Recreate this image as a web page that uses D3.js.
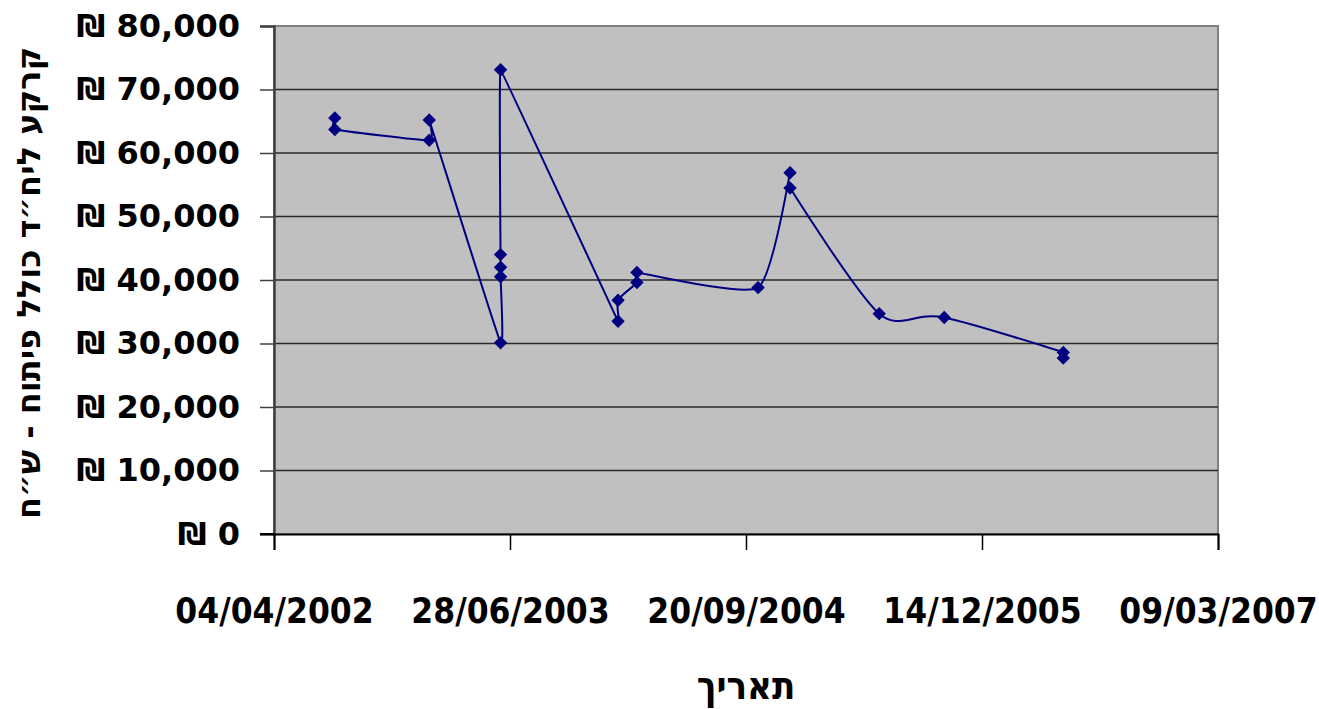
<!DOCTYPE html>
<html>
<head>
<meta charset="utf-8">
<script src="https://cdn.jsdelivr.net/npm/d3@7"></script>
<style>
  body { margin: 0; background: #fff; }
  svg { display: block; }
</style>
</head>
<body>
<div id="chart"></div>
<script>
// נתונים - תאריך ומחיר
let dates = ["2002-07-29", "2002-07-29", "2003-01-25", "2003-01-25", "2003-06-10",
    "2003-06-10", "2003-06-10", "2003-06-10", "2003-06-10", "2004-01-20", "2004-01-20",
    "2004-02-25", "2004-02-25", "2004-10-13", "2004-12-13", "2004-12-13", "2005-06-01",
    "2005-10-03", "2006-05-18", "2006-05-18"]
let prices = [65500, 63700, 62000, 65200, 30100,
    40500, 42000, 44000, 73100, 33500, 36800,
    39600, 41200, 38800, 56900, 54500, 34700,
    34100, 28600, 27700]
let xTickLabels = ["04/04/2002", "28/06/2003", "20/09/2004", "14/12/2005", "09/03/2007"]
let yTicks = [0, 10000, 20000, 30000, 40000, 50000, 60000, 70000, 80000]

let width = 1319, height = 709
let plot = { left: 274, top: 26, right: 1218, bottom: 534 }

let parseDate = d3.timeParse("%Y-%m-%d")
let parseTick = d3.timeParse("%d/%m/%Y")
let data = dates.map((d, i) => ({ date: parseDate(d), price: prices[i] }))
let tickDates = xTickLabels.map(parseTick)

// עקומה מוחלקת בסגנון אקסל - בזייה עם הגבלת נקודות הבקרה בפניות חדות
function ExcelSmooth(context) { this._context = context }
ExcelSmooth.prototype = {
    areaStart: function () { this._line = 0 },
    areaEnd: function () { this._line = NaN },
    lineStart: function () { this._pts = [] },
    point: function (x, y) { this._pts.push([+x, +y]) },
    lineEnd: function () {
        let p = this._pts, n = p.length, ctx = this._context
        if (!n) return
        let dist = (a, b) => Math.hypot(b[0] - a[0], b[1] - a[1])
        let tan = p.map(function (pt, i) {
            let a = p[Math.max(i - 1, 0)], b = p[Math.min(i + 1, n - 1)]
            let d02 = dist(a, b)
            if (d02 === 0) return [0, 0]
            let d01 = dist(a, pt), d12 = dist(pt, b)
            let m = d02 / 6
            if (d01 > 0) m = Math.min(m, d01 / 2)
            if (d12 > 0) m = Math.min(m, d12 / 2)
            let r = d02 / ((d01 + d12) || 1)
            m = m * r * r
            return [(b[0] - a[0]) / d02 * m, (b[1] - a[1]) / d02 * m]
        })
        ctx.moveTo(p[0][0], p[0][1])
        for (let i = 0; i < n - 1; i++) {
            ctx.bezierCurveTo(p[i][0] + tan[i][0], p[i][1] + tan[i][1],
                p[i + 1][0] - tan[i + 1][0], p[i + 1][1] - tan[i + 1][1],
                p[i + 1][0], p[i + 1][1])
        }
    }
}
let curveExcel = context => new ExcelSmooth(context)

let svg = d3.select("#chart").append("svg")
    .attr("width", width)
    .attr("height", height)

let x = d3.scaleTime()
    .domain([tickDates[0], tickDates[tickDates.length - 1]])
    .range([plot.left, plot.right])
let y = d3.scaleLinear()
    .domain([0, 80000])
    .range([plot.bottom, plot.top])

// רקע אפור
svg.append("rect")
    .attr("x", plot.left)
    .attr("y", plot.top)
    .attr("width", plot.right - plot.left)
    .attr("height", plot.bottom - plot.top)
    .attr("fill", "#C0C0C0")
    .attr("stroke", "#808080")
    .attr("stroke-width", 2)

// קווי רשת
svg.selectAll(".grid")
    .data(yTicks.slice(1, -1))
    .enter()
    .append("line")
    .attr("class", "grid")
    .attr("x1", plot.left)
    .attr("x2", plot.right)
    .attr("y1", d => y(d))
    .attr("y2", d => y(d))
    .attr("stroke", "#2a2a2a")
    .attr("stroke-width", 1.5)

// ציר Y
let yAxis = svg.append("g")
    .attr("transform", "translate(" + plot.left + ",0)")
    .call(d3.axisLeft(y)
        .tickValues(yTicks)
        .tickSize(14)
        .tickPadding(20)
        .tickFormat(d => "\u20AA " + d3.format(",")(d)))
yAxis.select(".domain").attr("stroke", "#404040").attr("stroke-width", 2.5)
yAxis.selectAll(".tick line").attr("stroke", "#404040").attr("stroke-width", 1.5)
yAxis.selectAll(".tick text")
    .attr("fill", "#000")
    .style("font-family", "'DejaVu Sans', Verdana, sans-serif")
    .style("font-weight", "bold")
    .style("font-size", "32px")
    .attr("direction", "ltr")

// ציר X
let xAxis = svg.append("g")
    .attr("transform", "translate(0," + plot.bottom + ")")
    .call(d3.axisBottom(x)
        .tickValues(tickDates)
        .tickSize(16)
        .tickPadding(48)
        .tickFormat((d, i) => xTickLabels[i]))
xAxis.select(".domain").attr("stroke", "#000").attr("stroke-width", 2)
xAxis.selectAll(".tick line").attr("stroke", "#000").attr("stroke-width", 1.5)
xAxis.selectAll(".tick text")
    .attr("fill", "#000")
    .style("font-family", "'DejaVu Sans Condensed', 'DejaVu Sans', sans-serif")
    .style("font-weight", "bold")
    .style("font-size", "35px")
// קו האפס משמאל
svg.append("line")
    .attr("x1", plot.left - 14)
    .attr("x2", plot.left)
    .attr("y1", plot.bottom)
    .attr("y2", plot.bottom)
    .attr("stroke", "#000")
    .attr("stroke-width", 2)

// הקו המוחלק
let line = d3.line()
    .x(d => x(d.date))
    .y(d => y(d.price))
    .curve(curveExcel)
svg.append("path")
    .datum(data)
    .attr("d", line)
    .attr("fill", "none")
    .attr("stroke", "#000080")
    .attr("stroke-width", 2)

// סמנים
let diamond = d3.symbol().type(d3.symbolSquare).size(72)
svg.selectAll(".marker")
    .data(data)
    .enter()
    .append("path")
    .attr("class", "marker")
    .attr("d", diamond)
    .attr("transform", d => "translate(" + x(d.date) + "," + y(d.price) + ") rotate(45)")
    .attr("fill", "#000080")
    .attr("stroke", "#000080")
    .attr("stroke-width", 1)

// כותרות צירים
svg.append("text")
    .attr("transform", "translate(31," + ((plot.top + plot.bottom) / 2 + 3) + ") rotate(-90)")
    .attr("text-anchor", "middle")
    .attr("dominant-baseline", "middle")
    .attr("textLength", 472)
    .attr("lengthAdjust", "spacingAndGlyphs")
    .style("font-family", "'DejaVu Sans', sans-serif")
    .style("font-weight", "bold")
    .style("font-size", "32px")
    .text("קרקע ליח״ד כולל פיתוח - ש״ח")

svg.append("text")
    .attr("x", (plot.left + plot.right) / 2)
    .attr("y", 699)
    .attr("text-anchor", "middle")
    .style("font-family", "'DejaVu Sans Condensed', 'DejaVu Sans', sans-serif")
    .style("font-weight", "bold")
    .style("font-size", "38px")
    .text("תאריך")
</script>
</body>
</html>
